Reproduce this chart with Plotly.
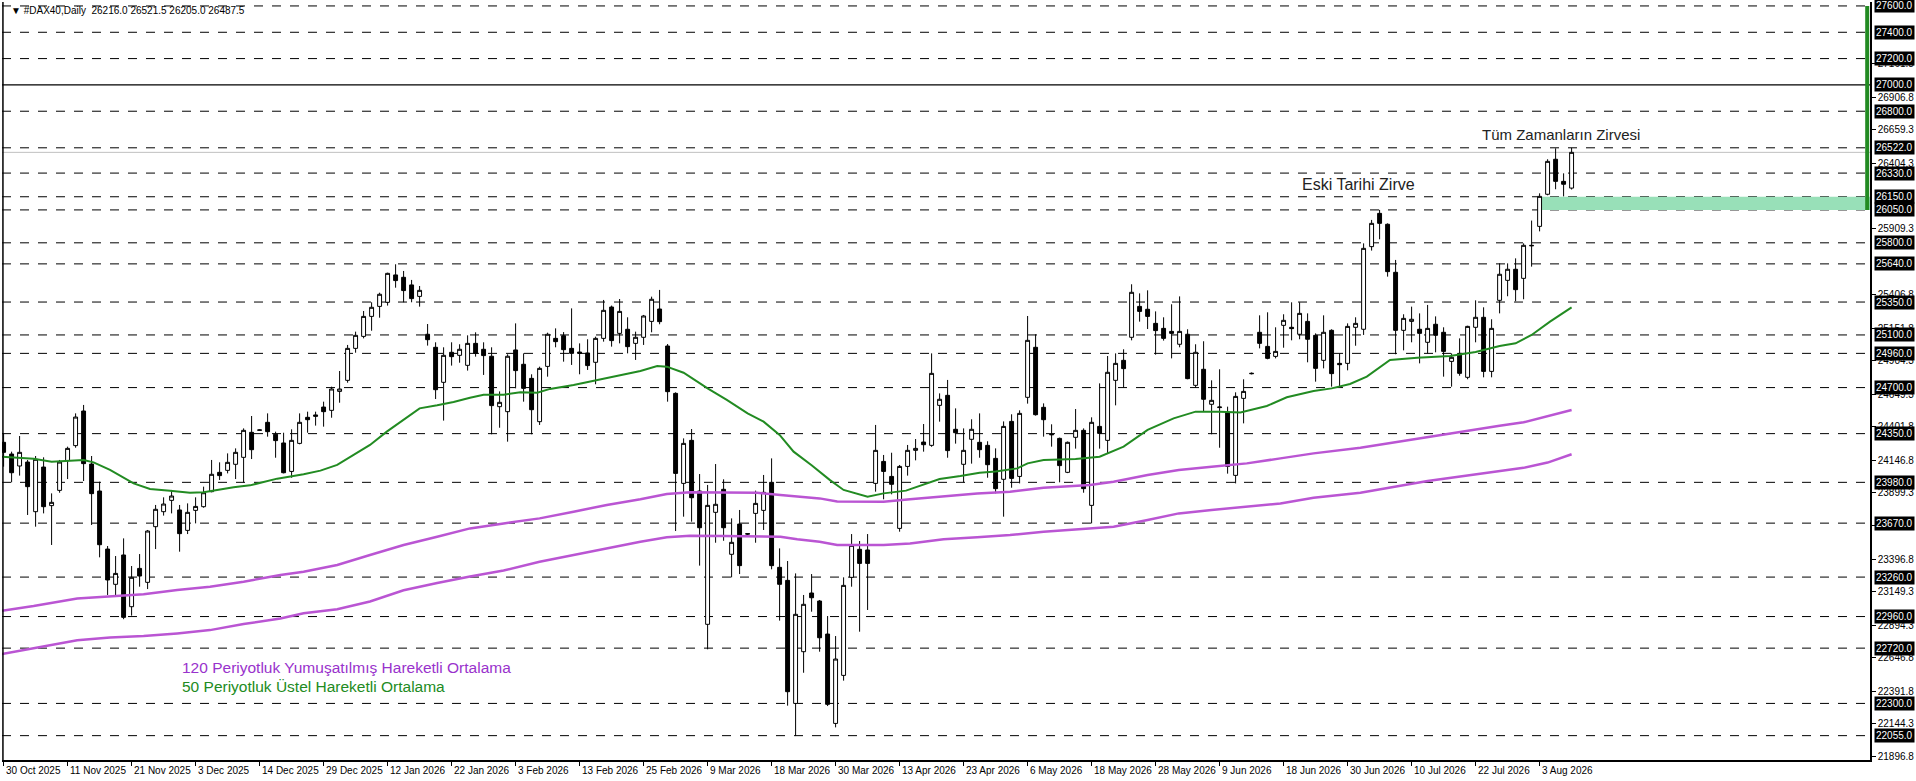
import plotly.graph_objects as go

# daily bars, index 0 = 30 Oct 2025 ... 196 = 7 Aug 2026
opens = [24284, 24195, 24104, 24134, 23757, 24096, 23803, 23919, 24145, 24259,
         24522, 24119, 23914, 23473, 23205, 23428, 23035, 23326, 23220, 23643,
         23757, 23843, 23770, 23615, 23767, 23795, 23909, 24056, 24071, 24117,
         24170, 24360, 24375, 24436, 24345, 24279, 24063, 24276, 24474, 24492,
         24552, 24527, 24671, 24755, 24998, 25089, 25241, 25317, 25348, 25556,
         25538, 25480, 25393, 25105, 25006, 24740, 24968, 24945, 24869, 25036,
         24991, 24938, 24555, 24517, 24986, 24877, 24770, 24441, 24861, 25074,
         25094, 24998, 24970, 24963, 24892, 25074, 25312, 25112, 25143, 25036,
         25082, 25203, 25297, 25016, 24656, 23972, 24299, 23914, 22901, 23752,
         23927, 23433, 23663, 23590, 23744, 23767, 23980, 23334, 23235, 22300,
         22693, 23139, 23078, 22827, 22148, 22513, 23258, 23471, 23466, 23972,
         24139, 24025, 23630, 24101, 24223, 24286, 24261, 24565, 24641, 24383,
         24117, 24307, 24284, 24261, 24162, 24003, 24443, 24025, 24626, 25006,
         24550, 24345, 24314, 24056, 24322, 24375, 23805, 24405, 24299, 24755,
         24907, 25082, 25317, 25295, 25188, 25150, 25127, 25029, 25105, 24717,
         24839, 24573, 24548, 24512, 24033, 24618, 24805, 25120, 25013, 24937,
         25173, 25158, 25105, 25203, 25097, 24907, 25135, 24884, 24884, 25158,
         25143, 25771, 26024, 25941, 25576, 25135, 25203, 25143, 25044, 25181,
         25120, 24899, 24960, 24778, 25158, 25234, 24823, 25363, 25515, 25599,
         25530, 25781, 25925, 26169, 26435, 26267, 26216]
highs = [24352, 24213, 24332, 24150, 24180, 24170, 23896, 24150, 24251, 24504,
         24568, 24180, 23985, 23496, 23420, 23554, 23344, 23435, 23618, 23808,
         23866, 23922, 23808, 23820, 23866, 23947, 24150, 24132, 24200, 24238,
         24390, 24484, 24383, 24504, 24365, 24357, 24383, 24504, 24517, 24517,
         24593, 24707, 24826, 25024, 25125, 25282, 25348, 25421, 25573, 25637,
         25586, 25518, 25472, 25183, 25044, 25006, 25044, 25029, 25097, 25120,
         25044, 25006, 24671, 24953, 25188, 24960, 24801, 24859, 25117, 25150,
         25122, 25302, 25036, 25067, 25087, 25366, 25323, 25373, 25234, 25125,
         25252, 25391, 25442, 25031, 24664, 24314, 24385, 24043, 23960, 24119,
         24003, 23706, 23770, 23592, 23917, 24036, 24162, 23478, 23382, 23288,
         23124, 23283, 23086, 22964, 22812, 23258, 23587, 23534, 23587, 24416,
         24188, 24205, 24112, 24264, 24309, 24423, 24960, 24656, 24758, 24542,
         24390, 24459, 24504, 24292, 24238, 24443, 24497, 24527, 25244, 25105,
         24580, 24421, 24320, 24290, 24537, 24390, 24474, 24732, 24940, 24960,
         24991, 25485, 25416, 25439, 25279, 25234, 25333, 25393, 25143, 25029,
         25052, 24755, 24839, 24555, 24664, 24763, 24815, 25249, 25272, 25158,
         25257, 25348, 25348, 25264, 25112, 25249, 25143, 24960, 25188, 25234,
         25796, 25974, 26050, 25948, 25670, 25257, 25315, 25264, 25328, 25241,
         25158, 24960, 25074, 25170, 25363, 25310, 25219, 25644, 25644, 25682,
         25796, 25969, 26176, 26435, 26518, 26328, 26521.5]
lows = [24099, 23980, 24031, 23732, 23643, 23744, 23504, 23901, 24005, 24243,
        23990, 23656, 23410, 23124, 23118, 22940, 22967, 23187, 23169, 23473,
        23727, 23744, 23453, 23587, 23668, 23787, 23904, 23998, 24048, 24005,
        23980, 24157, 24373, 24327, 24167, 24048, 24015, 24269, 24357, 24411,
        24403, 24471, 24585, 24737, 24965, 25074, 25132, 25231, 25323, 25459,
        25348, 25348, 25315, 25019, 24613, 24449, 24867, 24889, 24829, 24935,
        24796, 24345, 24395, 24289, 24694, 24593, 24345, 24416, 24783, 25006,
        24897, 24872, 24801, 24834, 24725, 25049, 25011, 25036, 24960, 24910,
        25024, 25120, 25181, 24593, 23610, 23719, 23681, 23347, 22711, 23521,
        23536, 23258, 23283, 23580, 23521, 23618, 23319, 22929, 22283, 22052,
        22533, 22997, 22693, 22280, 22118, 22473, 23187, 22845, 23010, 23909,
        23851, 23889, 23605, 24031, 24147, 24213, 24250, 24441, 24167, 24274,
        23980, 24122, 24167, 24015, 23896, 23719, 23939, 23972, 24578, 24487,
        24327, 24251, 23980, 24050, 24236, 23901, 23668, 24236, 24200, 24565,
        24699, 25059, 25201, 25145, 24950, 25057, 24922, 25006, 24763, 24699,
        24520, 24345, 24243, 24046, 23972, 24428, 24800, 24998, 24915, 24922,
        25003, 25059, 25067, 24892, 24745, 24846, 24707, 24707, 24831, 25018,
        25100, 25741, 25827, 25543, 24953, 24983, 25044, 24884, 24960, 24968,
        24783, 24707, 24790, 24763, 25044, 24778, 24778, 25264, 25394, 25356,
        25371, 25619, 25887, 26161, 26207, 26153, 26205]
closes = [24208, 24053, 24208, 23947, 24155, 23795, 23828, 24134, 24238, 24476,
          24122, 23894, 23506, 23238, 23288, 22954, 23258, 23268, 23610, 23775,
          23815, 23876, 23590, 23752, 23797, 23901, 24041, 24031, 24132, 24208,
          24375, 24228, 24378, 24365, 24297, 24053, 24299, 24436, 24456, 24482,
          24517, 24689, 24689, 24998, 25097, 25241, 25310, 25409, 25568, 25513,
          25437, 25376, 25439, 25064, 24684, 24945, 24935, 24991, 25036, 24960,
          24943, 24563, 24588, 24938, 24829, 24694, 24532, 24846, 25105, 25049,
          24988, 24960, 24960, 24867, 25074, 25287, 25057, 25279, 25011, 25082,
          25244, 25371, 25201, 24669, 24048, 24276, 23863, 23635, 23805, 23813,
          23635, 23524, 23347, 23587, 23820, 23904, 23347, 23205, 22389, 22977,
          23053, 23103, 22799, 22293, 22637, 23197, 23501, 23364, 23364, 24223,
          24063, 23965, 24101, 24223, 24238, 24266, 24808, 24611, 24221, 24357,
          24223, 24383, 24228, 24114, 23932, 24405, 24010, 24504, 25059, 24494,
          24456, 24342, 24107, 24284, 24375, 23932, 24436, 24352, 24816, 24884,
          24844, 25424, 25279, 25241, 25133, 25074, 25112, 25127, 24768, 24968,
          24611, 24603, 24552, 24101, 24633, 24671, 24808, 25036, 24922, 24975,
          25211, 25148, 25264, 25067, 24846, 25120, 24806, 24874, 25165, 25188,
          25758, 25948, 25948, 25581, 25135, 25226, 25219, 25112, 25150, 25097,
          24975, 24930, 24808, 25165, 25234, 24823, 25150, 25561, 25599, 25444,
          25781, 25778, 26153, 26419, 26267, 26245, 26487.5]

# 50 EMA (green), read at bar positions
ema_x = [-0.2, 3.75, 6, 10, 11.25, 13.3, 16.25, 18.3, 20.8, 23.3, 25, 28.75, 30.8, 34.2,
         37.5, 39.6, 41.7, 43.75, 45.8, 47.9, 50, 52, 54.2, 56.25, 58.3, 60, 62.5,
         64.6, 66.7, 68.3, 71.25, 75.4, 79.6, 81.7, 82.9, 85, 88, 90.4, 93, 95, 97,
         98.75, 101, 103.3, 105, 108, 110, 112.8, 115, 117, 119.6, 122, 124, 126.7,
         128, 130, 134, 137, 140, 143, 146.25, 149, 152, 154.6, 157.9, 160.4, 163.75,
         166, 168.3, 170.4, 173.3, 176.7, 180.8, 184, 187, 189, 191, 193.3, 196]
ema_y = [24175, 24160, 24137, 24150, 24132, 24074, 23972, 23929, 23916, 23901, 23904,
         23942, 23957, 24008, 24041, 24069, 24112, 24190, 24264, 24365, 24459, 24542,
         24565, 24590, 24623, 24646, 24646, 24664, 24661, 24690, 24720, 24775, 24826,
         24864, 24859, 24813, 24694, 24606, 24504, 24441, 24340, 24213, 24110, 23997,
         23922, 23871, 23896, 23917, 23960, 24005, 24028, 24053, 24063, 24086, 24124,
         24150, 24157, 24175, 24251, 24378, 24466, 24517, 24517, 24510, 24560, 24626,
         24674, 24694, 24727, 24783, 24910, 24927, 24940, 24970, 25016, 25036, 25100,
         25201, 25310]

# 120 smoothed MA (purple, two lines)
smma_x = [-0.2, 3.75, 9.2, 13.3, 17.5, 21.7, 25.8, 30, 34.6, 37.5, 41.7, 45.8, 50,
          54.2, 58.3, 62.5, 67, 71.25, 75.4, 79.6, 82.9, 85.8, 90, 94.2, 97.1, 99.2,
          102, 104.2, 110, 113.3, 117.5, 121.7, 125.8, 130, 135.8, 138.75, 143, 146.9,
          151, 155.4, 159.6, 163.75, 169.6, 178, 187, 190, 193, 196]
smma_hi = [23004, 23040, 23098, 23116, 23129, 23161, 23187, 23225, 23276, 23301,
           23352, 23428, 23504, 23567, 23630, 23668, 23706, 23757, 23808, 23851,
           23891, 23904, 23904, 23901, 23884, 23871, 23858, 23835, 23833, 23851,
           23876, 23896, 23909, 23939, 23960, 23985, 24036, 24074, 24099, 24124,
           24162, 24200, 24243, 24325, 24410, 24436, 24484, 24530]
smma_lo = [22675, 22718, 22780, 22800, 22812, 22832, 22857, 22903, 22946, 22985,
           23015, 23075, 23160, 23215, 23265, 23310, 23377, 23428, 23478, 23529,
           23562, 23574, 23572, 23570, 23567, 23547, 23529, 23504, 23504, 23516,
           23547, 23562, 23580, 23605, 23630, 23643, 23694, 23744, 23770, 23795,
           23820, 23863, 23901, 23990, 24068, 24090, 24130, 24193]

date_pos = list(range(0, 193, 8))
date_labels = ["30 Oct 2025", "11 Nov 2025", "21 Nov 2025", "3 Dec 2025", "14 Dec 2025",
               "29 Dec 2025", "12 Jan 2026", "22 Jan 2026", "3 Feb 2026", "13 Feb 2026",
               "25 Feb 2026", "9 Mar 2026", "18 Mar 2026", "30 Mar 2026", "13 Apr 2026",
               "23 Apr 2026", "6 May 2026", "18 May 2026", "28 May 2026", "9 Jun 2026",
               "18 Jun 2026", "30 Jun 2026", "10 Jul 2026", "22 Jul 2026", "3 Aug 2026"]

levels = [27600, 27400, 27200, 26800, 26522, 26330, 26150, 26050, 25800, 25640, 25350,
          25100, 24960, 24700, 24350, 23980, 23670, 23260, 22960, 22720, 22300, 22055]
solid_level = 27000
price_ticks = [27161.8, 26906.8, 26659.3, 26404.3, 25909.3, 25406.8, 25151.8, 24904.3,
               24649.3, 24401.8, 24146.8, 23899.3, 23651.8, 23396.8, 23149.3, 22894.3,
               22646.8, 22391.8, 22144.3, 21896.8]
last_price = 26487.5
zone = [26050, 26150]

FONT = "Liberation Sans"
fig = go.Figure()
fig.add_trace(go.Scatter(x=smma_x, y=smma_hi, mode="lines", line=dict(color="#BA55D3", width=2.5),
                         hoverinfo="skip"))
fig.add_trace(go.Scatter(x=smma_x, y=smma_lo, mode="lines", line=dict(color="#BA55D3", width=2.5),
                         hoverinfo="skip"))
fig.add_trace(go.Scatter(x=ema_x, y=ema_y, mode="lines", line=dict(color="#228B22", width=2),
                         hoverinfo="skip"))
fig.add_trace(go.Candlestick(
    x=list(range(len(opens))), open=opens, high=highs, low=lows, close=closes,
    increasing=dict(line=dict(color="black", width=1), fillcolor="white"),
    decreasing=dict(line=dict(color="black", width=1), fillcolor="black"),
    whiskerwidth=0))

shapes = []
for lv in levels:
    shapes.append(dict(type="line", xref="paper", x0=0, x1=1, yref="y", y0=lv, y1=lv,
                       line=dict(color="black", width=1, dash="dash"), layer="below"))
shapes.append(dict(type="line", xref="paper", x0=0, x1=1, y0=solid_level, y1=solid_level,
                   line=dict(color="black", width=1.3)))
shapes.append(dict(type="line", xref="paper", x0=0, x1=1, y0=last_price, y1=last_price,
                   line=dict(color="#c0c0c0", width=1), layer="below"))
shapes.append(dict(type="rect", xref="x", x0=192, x1=240, y0=zone[0], y1=zone[1],
                   fillcolor="#98e0b8", line=dict(width=0), layer="below"))
shapes.append(dict(type="line", xref="paper", x0=0.9985, x1=0.9985, y0=26050, y1=27600,
                   line=dict(color="#228B22", width=4)))
shapes.append(dict(type="line", xref="paper", x0=0.0005, x1=0.0005, yref="paper", y0=0, y1=1,
                   line=dict(color="black", width=1.5)))

ann = []
for lv in levels + [solid_level]:
    ann.append(dict(xref="paper", x=1.002, xanchor="left", y=lv, yref="y", yanchor="middle",
                    text=f"{lv:.1f}", showarrow=False, bgcolor="black",
                    font=dict(family=FONT, size=10, color="white"), borderpad=1))
for pos, lab in zip(date_pos, date_labels):
    ann.append(dict(x=pos, xref="x", xanchor="left", y=-0.004, yref="paper", yanchor="top",
                    text=lab, showarrow=False, font=dict(family=FONT, size=10, color="black")))
ann += [
    dict(xref="paper", x=0.004, y=0.999, yref="paper", xanchor="left", yanchor="top",
         text="▼ #DAX40,Daily  26216.0 26521.5 26205.0 26487.5", showarrow=False,
         font=dict(family=FONT, size=10, color="black")),
    dict(x=184.5, y=26620, xanchor="left", yanchor="middle", text="Tüm Zamanların Zirvesi",
         showarrow=False, font=dict(family=FONT, size=15, color="#222")),
    dict(x=162, y=26245, xanchor="left", yanchor="middle", text="Eski Tarihi Zirve",
         showarrow=False, font=dict(family=FONT, size=16, color="#222")),
    dict(x=22, y=22570, xanchor="left", yanchor="middle",
         text="120 Periyotluk Yumuşatılmış Hareketli Ortalama", showarrow=False,
         font=dict(family=FONT, size=15.5, color="#9932CC")),
    dict(x=22, y=22430, xanchor="left", yanchor="middle",
         text="50 Periyotluk Üstel Hareketli Ortalama", showarrow=False,
         font=dict(family=FONT, size=15.5, color="#228B22")),
]

fig.update_layout(
    width=1916, height=781, margin=dict(l=2, r=46, t=2, b=21),
    paper_bgcolor="white", plot_bgcolor="white", showlegend=False,
    shapes=shapes, annotations=ann,
    xaxis=dict(range=[-0.2, 233.3], rangeslider=dict(visible=False), showgrid=False,
               zeroline=False, showline=True, linecolor="black", linewidth=1.5,
               tickvals=date_pos, ticks="outside", ticklen=4, tickcolor="black",
               showticklabels=False),
    yaxis=dict(range=[21870, 27630], side="right", showgrid=False, zeroline=False,
               showline=True, linecolor="black", linewidth=1.5, tickvals=price_ticks,
               ticktext=[f"{v:.1f}" for v in price_ticks], ticks="outside", ticklen=4,
               tickcolor="black", tickfont=dict(family=FONT, size=10, color="black")),
)
# drop the browser's default page margin so the chart sits at the window's corner
fig.write_html("out.html", config={"displayModeBar": False},
               post_script="document.body.style.margin='0';document.body.style.overflow='hidden';")
